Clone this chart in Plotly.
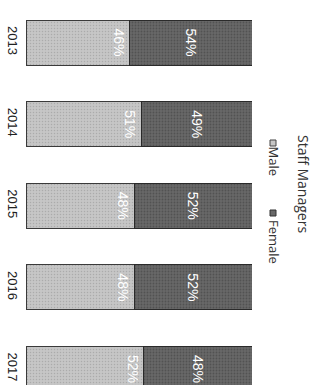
import plotly.graph_objects as go

years = ["2013", "2014", "2015", "2016", "2017"]
male = [46, 51, 48, 48, 52]
female = [54, 49, 52, 52, 48]
series_names = ["Male", "Female"]
chart_title = "Staff Managers"

W, H = 320, 385
L, R, T, B = 26, 68, 0, 0
PW = W - L - R
PH = H - T - B

def px(x):
    return (x - L) / PW

def py(y):
    return 1 - (y - T) / PH

male_color = "#c6c6c6"
female_color = "#686868"

fig = go.Figure()
fig.add_trace(go.Bar(
    y=years, x=male, orientation="h", name=series_names[0],
    marker=dict(color=male_color, line=dict(color="#3a3a3a", width=1),
                pattern=dict(shape=".", fgcolor="#8f8f8f", bgcolor=male_color, size=3, solidity=0.2)),
    text=[f"{v}%" for v in male], textposition="inside", insidetextanchor="end",
    textangle=90, textfont=dict(color="white", size=14, family="Liberation Sans"),
))
fig.add_trace(go.Bar(
    y=years, x=female, orientation="h", name=series_names[1],
    marker=dict(color=female_color, line=dict(color="#2a2a2a", width=1),
                pattern=dict(shape=".", fgcolor="#3c3c3c", bgcolor=female_color, size=3, solidity=0.3)),
    text=[f"{v}%" for v in female], textposition="inside", insidetextanchor="middle",
    textangle=90, textfont=dict(color="white", size=14, family="Liberation Sans"),
))

fig.update_layout(
    width=W, height=H, barmode="stack", bargap=0.449,
    margin=dict(l=L, r=R, t=T, b=B),
    paper_bgcolor="white", plot_bgcolor="white",
    showlegend=False,
    xaxis=dict(range=[0, 100], visible=False),
    yaxis=dict(range=[4.196, -0.521], tickangle=90, showgrid=False, zeroline=False,
               showline=False, ticks="", tickfont=dict(size=13, family="Liberation Sans", color="#222"),
               ticklabelstandoff=4),
    font=dict(family="Liberation Sans"),
)

annotations = [
    dict(text=chart_title, x=px(303), y=py(184), xref="paper", yref="paper",
         xanchor="center", yanchor="middle",
         textangle=90, showarrow=False, font=dict(size=14, family="Open Sans", color="#333")),
    dict(text=series_names[0], x=px(274), y=py(161.5), xref="paper", yref="paper",
         xanchor="center", yanchor="middle",
         textangle=90, showarrow=False, font=dict(size=13, family="Open Sans", color="#333")),
    dict(text=series_names[1], x=px(274), y=py(242), xref="paper", yref="paper",
         xanchor="center", yanchor="middle",
         textangle=90, showarrow=False, font=dict(size=13, family="Open Sans", color="#333")),
]
fig.update_layout(annotations=annotations)

shapes = [
    dict(type="rect", xref="paper", yref="paper", x0=px(270), x1=px(276), y0=py(140), y1=py(146),
         fillcolor=male_color, line=dict(color="#444", width=1)),
    dict(type="rect", xref="paper", yref="paper", x0=px(270), x1=px(276), y0=py(210), y1=py(216),
         fillcolor=female_color, line=dict(color="#333", width=1)),
]
fig.update_layout(shapes=shapes)

fig.write_html("out.html")
